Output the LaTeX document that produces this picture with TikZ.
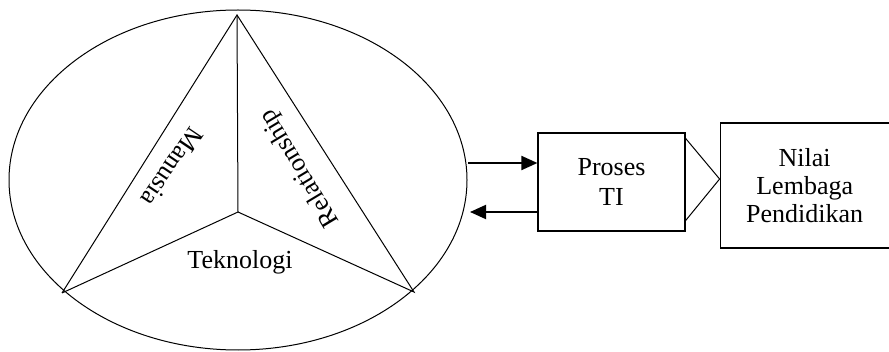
\documentclass[tikz,border=0pt]{standalone}
\usepackage{fontspec}
\setmainfont{Liberation Serif}
\usetikzlibrary{shapes.geometric}
\usetikzlibrary{arrows.meta}
\usetikzlibrary{positioning}

\begin{document}
\begin{tikzpicture}[
            x = 0.5pt, y = -0.5pt, % pixel grid of the reference
            > = {Triangle[length=8pt, width=7pt]}, % arrow head style
            line width = 0.5pt,
            font = \fontsize{13}{15}\selectfont
        ]

        \tikzstyle{kotak}=[
            draw,
            rectangle,
            line width = 0.6pt,
            align = center,
            inner sep = 0pt
        ]
        \tikzstyle{panah}=[->, line width = 1pt, shorten > = 0pt]

        \useasboundingbox (0,0) rectangle (889,352);

        % ellipse
        \node[draw, ellipse, minimum width=229pt, minimum height=170pt, inner sep=0pt] (circ) at (238,180) {};

        % triangle
        \coordinate (puncak) at (237,15);
        \coordinate (kiri) at (62,293);
        \coordinate (kanan) at (414,292);
        \coordinate (tengah) at (238,212);
        \draw (kiri) -- (puncak) -- (kanan) -- (tengah) -- (kiri);
        \draw (puncak) -- (tengah);

        % texts in the triangle
        \node[rotate=236] (M) at (172,167) {Manusia};
        \node[rotate=121] (R) at (300,168) {Relationship};
        \node (T) at (240,262) {Teknologi};

        % boxes
        \node[kotak, minimum width=73.5pt, minimum height=49pt] (P) at (611.5,182) {Proses\\TI};
        \node[kotak, minimum width=84.5pt, minimum height=62.5pt, font=\fontsize{13}{14}\selectfont] (N) [right = 17pt of P, yshift=-1.75pt] {Nilai\\Lembaga\\Pendidikan};

        \draw ([yshift=-3pt]P.north east) -- ([yshift=3.25pt]N.west) -- ([yshift=5.5pt]P.south east);

        % arrows
        \coordinate (masuk) at (468,163);
        \coordinate (keluar) at (470,212);
        \draw[panah] (masuk) -- (masuk -| P.west);
        \draw[panah] (keluar -| P.west) -- (keluar);

\end{tikzpicture}
\end{document}
